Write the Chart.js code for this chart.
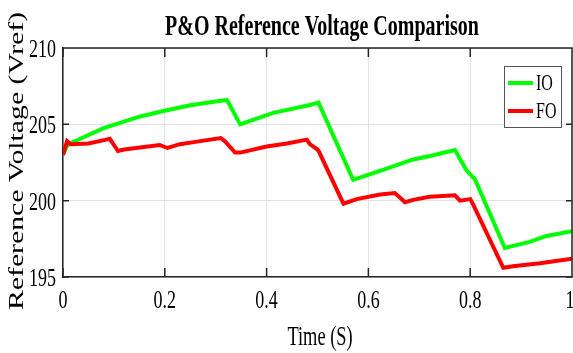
<!DOCTYPE html>
<html>
<head>
<meta charset="utf-8">
<script src="https://cdn.jsdelivr.net/npm/chart.js@4.4.1/dist/chart.umd.min.js"></script>
<style>
  body { margin: 0; background: #fff; }
  canvas { display: block; }
</style>
</head>
<body>
<canvas id="voltChart" width="573" height="353"></canvas>
<script>
// values
let ioTime = [0, 0.008, 0.017, 0.05, 0.08, 0.112, 0.15, 0.197, 0.25, 0.3, 0.322, 0.348, 0.413, 0.485, 0.502,
  0.57, 0.623, 0.688, 0.721, 0.77, 0.793, 0.809, 0.868, 0.917, 0.95, 1];
let ioVolt = [203.0, 203.6, 203.8, 204.3, 204.75, 205.1, 205.5, 205.87, 206.25, 206.5, 206.6, 205.0, 205.75, 206.27, 206.42,
  201.36, 201.95, 202.7, 202.93, 203.32, 201.97, 201.42, 196.9, 197.3, 197.69, 198.0];

let foTime = [0, 0.008, 0.015, 0.05, 0.085, 0.092, 0.108, 0.12, 0.19, 0.205, 0.23, 0.26, 0.31, 0.318, 0.338, 0.348,
  0.4, 0.44, 0.479, 0.485, 0.5, 0.503, 0.551, 0.577, 0.623, 0.652, 0.672, 0.688, 0.72, 0.77, 0.78, 0.8, 0.805,
  0.865, 0.884, 0.937, 1];
let foVolt = [203.0, 203.9, 203.7, 203.75, 204.0, 204.05, 203.25, 203.35, 203.65, 203.45, 203.7, 203.85, 204.1, 203.9, 203.15, 203.15,
  203.55, 203.75, 204.0, 203.7, 203.35, 203.2, 199.8, 200.1, 200.4, 200.5, 199.9, 200.05, 200.25, 200.35, 200.0, 200.1, 199.8,
  195.6, 195.7, 195.9, 196.2];

let seriesNames = ["IO", "FO"];
let seriesColors = ["#00ff00", "#ff0000"];
let xTicks = [0, 0.2, 0.4, 0.6, 0.8, 1];
let xTickLabels = ["0", "0.2", "0.4", "0.6", "0.8", "1"];
let yTicks = [195, 200, 205, 210];
let yTickLabels = ["195", "200", "205", "210"];

let chartTitle = "P&O Reference Voltage Comparison";
let xTitle = "Time (S)";
let yTitle = "Reference Voltage (Vref)";

// the reference text is stretched vertically
const SY = 1.45;
const FONT = '"Liberation Serif", "Times New Roman", serif';
const AXIS = "#262626";

function toPoints(xs, ys) {
  let pts = [];
  for (let i = 0; i < xs.length; i++) {
    pts.push({ x: xs[i], y: ys[i] });
  }
  return pts;
}

function stretchText(ctx, str, x, y, size, opts) {
  opts = opts || {};
  ctx.save();
  ctx.translate(x, y);
  ctx.scale(1, SY);
  if (opts.rotate) ctx.rotate(-Math.PI / 2);
  ctx.font = (opts.bold ? "bold " : "") + size + "px " + FONT;
  ctx.fillStyle = opts.color || "#000";
  ctx.textAlign = opts.align || "center";
  ctx.textBaseline = "middle";
  ctx.fillText(str, 0, 0);
  ctx.restore();
}

let matlabLook = {
  id: "matlabLook",
  afterDraw(chart) {
    let ctx = chart.ctx;
    let area = chart.chartArea;
    let xs = chart.scales.x;
    let ys = chart.scales.y;

    // box + inward ticks
    ctx.save();
    ctx.strokeStyle = AXIS;
    ctx.lineWidth = 1.5;
    ctx.beginPath();
    ctx.moveTo(area.left, area.top);
    ctx.lineTo(area.right, area.top);
    ctx.lineTo(area.right, area.bottom);
    for (let i = 0; i < xTicks.length; i++) {
      let px = xs.getPixelForValue(xTicks[i]);
      ctx.moveTo(px, area.bottom);
      ctx.lineTo(px, area.bottom - 9);
      ctx.moveTo(px, area.top);
      ctx.lineTo(px, area.top + 9);
    }
    for (let i = 0; i < yTicks.length; i++) {
      let py = ys.getPixelForValue(yTicks[i]);
      ctx.moveTo(area.left, py);
      ctx.lineTo(area.left + 6, py);
      ctx.moveTo(area.right, py);
      ctx.lineTo(area.right - 6, py);
    }
    ctx.stroke();
    ctx.restore();

    // tick labels
    for (let i = 0; i < xTicks.length; i++) {
      let px = xs.getPixelForValue(xTicks[i]);
      if (i === xTicks.length - 1) px -= 2;
      stretchText(ctx, xTickLabels[i], px, 301, 18);
    }
    for (let i = 0; i < yTicks.length; i++) {
      let py = ys.getPixelForValue(yTicks[i]);
      stretchText(ctx, yTickLabels[i], 56, py + 2, 18, { align: "right" });
    }

    // titles
    stretchText(ctx, chartTitle, 322, 28, 20, { bold: true });
    stretchText(ctx, xTitle, 320, 338, 18.4);
    stretchText(ctx, yTitle, 18, 161, 20.5, { rotate: true });

    // legend box
    let bx = 504, by = 66, bw = 57, bh = 61;
    ctx.save();
    ctx.fillStyle = "#fff";
    ctx.fillRect(bx, by, bw, bh);
    ctx.strokeStyle = "#555";
    ctx.lineWidth = 1;
    ctx.strokeRect(bx + 0.5, by + 0.5, bw, bh);
    for (let i = 0; i < seriesNames.length; i++) {
      let ly = 83 + i * 28;
      ctx.strokeStyle = seriesColors[i];
      ctx.lineWidth = 4;
      ctx.beginPath();
      ctx.moveTo(508, ly);
      ctx.lineTo(533, ly);
      ctx.stroke();
      stretchText(ctx, seriesNames[i], 536, ly + 1, 16, { align: "left" });
    }
    ctx.restore();
  }
};

new Chart(document.getElementById("voltChart"), {
  type: "line",
  data: {
    datasets: [
      {
        label: seriesNames[0],
        data: toPoints(ioTime, ioVolt),
        borderColor: seriesColors[0],
        borderWidth: 4,
        pointRadius: 0,
        order: 1
      },
      {
        label: seriesNames[1],
        data: toPoints(foTime, foVolt),
        borderColor: seriesColors[1],
        borderWidth: 4,
        pointRadius: 0,
        order: 0
      }
    ]
  },
  options: {
    responsive: false,
    animation: false,
    devicePixelRatio: 1,
    layout: { padding: { left: 63, right: 1, top: 48, bottom: 76 } },
    plugins: {
      legend: { display: false },
      title: { display: false },
      tooltip: { enabled: false }
    },
    scales: {
      x: {
        type: "linear",
        min: 0,
        max: 1,
        afterBuildTicks: function (scale) {
          scale.ticks = xTicks.map(v => ({ value: v }));
        },
        ticks: { display: false },
        grid: { color: "#e3e3e3", drawTicks: false },
        border: { color: AXIS, width: 1.5 }
      },
      y: {
        min: 195,
        max: 210,
        afterBuildTicks: function (scale) {
          scale.ticks = yTicks.map(v => ({ value: v }));
        },
        ticks: { display: false },
        grid: { color: "#e3e3e3", drawTicks: false },
        border: { color: AXIS, width: 1.5 }
      }
    }
  },
  plugins: [matlabLook]
});
</script>
</body>
</html>
